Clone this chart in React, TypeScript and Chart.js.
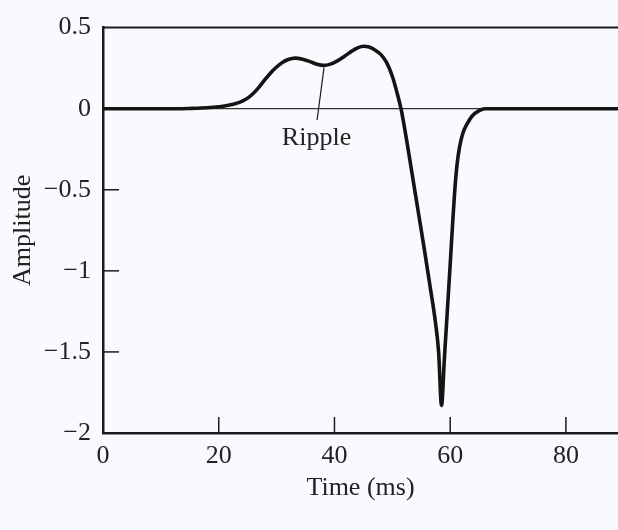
import { useEffect, useRef } from "react";
import { Chart, registerables } from "chart.js";

Chart.register(...registerables);

// ---- data ----
const timeMs = [
  0, 8, 13, 15, 17, 19, 21, 22.5, 24, 25, 26, 27, 28, 29, 30, 31, 32, 33.2, 34.5, 35.8, 37,
  38.1, 39.3, 40.5, 41.8, 43, 44, 45, 46, 47, 48, 49, 50, 50.8, 51.5, 52.5, 53.5, 54.5, 55.5,
  56.5, 57.5, 58, 58.5, 59, 59.5, 60, 60.4, 60.8, 61.2, 61.6, 62.2, 62.9, 63.8, 65, 66, 70, 80, 89,
];
const amplitude = [
  0, 0, 0, 0.0015, 0.004, 0.009, 0.017, 0.027, 0.045, 0.065, 0.095, 0.135, 0.18, 0.222, 0.257,
  0.285, 0.303, 0.312, 0.305, 0.29, 0.274, 0.267, 0.275, 0.295, 0.325, 0.355, 0.375, 0.385,
  0.38, 0.362, 0.335, 0.285, 0.2, 0.1, 0, -0.2, -0.42, -0.64, -0.86, -1.09, -1.33, -1.5, -1.83,
  -1.54, -1.25, -0.96, -0.72, -0.5, -0.34, -0.24, -0.15, -0.095, -0.045, -0.012, 0, 0, 0, 0,
];
const xTickValues = [0, 20, 40, 60, 80];
const yTickValues = [-2, -1.5, -1, -0.5, 0, 0.5];
const xMin = 0;
const xMax = 89;
const yMin = -2;
const yMax = 0.5;
const xTitle = "Time (ms)";
const yTitle = "Amplitude";
const rippleText = "Ripple";
const ripplePointerFrom = [38.2, 0.255];
const ripplePointerTo = [37.0, -0.07];
const rippleTextAt = [36.9, -0.225];

const INK = "#1b1b1b";
const BG = "#f9fafd";
const FONT_FAMILY = "'Liberation Serif', 'DejaVu Serif', serif";

const fmt = (v: number) => (v < 0 ? "\u2212" + String(Math.abs(v)) : String(v));

const framePlugin = {
  id: "frameTicks",
  afterDraw(chart: any) {
    const { ctx, chartArea } = chart;
    const xs = chart.scales.x;
    const ys = chart.scales.y;
    ctx.save();
    // top border
    ctx.strokeStyle = INK;
    ctx.lineWidth = 2;
    ctx.beginPath();
    ctx.moveTo(chartArea.left, chartArea.top);
    ctx.lineTo(chartArea.right, chartArea.top);
    ctx.stroke();
    // inward ticks
    ctx.lineWidth = 1.5;
    const tl = 16;
    xTickValues.forEach((v) => {
      if (v === xMin || v === xMax) return;
      const px = xs.getPixelForValue(v);
      ctx.beginPath();
      ctx.moveTo(px, chartArea.bottom);
      ctx.lineTo(px, chartArea.bottom - tl);
      ctx.stroke();
    });
    yTickValues.forEach((v) => {
      if (v === yMin || v === yMax || v === 0) return;
      const py = ys.getPixelForValue(v);
      ctx.beginPath();
      ctx.moveTo(chartArea.left, py);
      ctx.lineTo(chartArea.left + tl, py);
      ctx.stroke();
    });
    // ripple annotation
    ctx.lineWidth = 1.2;
    ctx.beginPath();
    ctx.moveTo(xs.getPixelForValue(ripplePointerFrom[0]), ys.getPixelForValue(ripplePointerFrom[1]));
    ctx.lineTo(xs.getPixelForValue(ripplePointerTo[0]), ys.getPixelForValue(ripplePointerTo[1]));
    ctx.stroke();
    ctx.fillStyle = "#222";
    ctx.font = `26px ${FONT_FAMILY}`;
    ctx.textAlign = "center";
    ctx.textBaseline = "alphabetic";
    ctx.fillText(rippleText, xs.getPixelForValue(rippleTextAt[0]), ys.getPixelForValue(rippleTextAt[1]));
    ctx.restore();
  },
};

export default function App() {
  const canvasRef = useRef<HTMLCanvasElement | null>(null);

  useEffect(() => {
    document.body.style.margin = "0";
    document.body.style.background = BG;
    const canvas = canvasRef.current;
    if (!canvas) return;
    const tickFont = { family: FONT_FAMILY, size: 26 };
    const titleFont = { family: FONT_FAMILY, size: 26 };
    const chart = new Chart(canvas, {
      type: "line",
      data: {
        datasets: [
          {
            data: timeMs.map((t, i) => ({ x: t, y: amplitude[i] })),
            borderColor: "#141414",
            borderWidth: 3.6,
            pointRadius: 0,
            fill: false,
            cubicInterpolationMode: "monotone",
            borderCapStyle: "round",
            borderJoinStyle: "round",
          },
        ],
      },
      options: {
        animation: false,
        responsive: false,
        maintainAspectRatio: false,
        layout: { padding: { top: 21, right: 0, bottom: 0, left: 0 } },
        plugins: { legend: { display: false }, tooltip: { enabled: false } },
        scales: {
          x: {
            type: "linear",
            min: xMin,
            max: xMax,
            afterBuildTicks: (s: any) => {
              s.ticks = xTickValues.map((v) => ({ value: v }));
            },
            afterFit: (s: any) => {
              s.height = 97;
            },
            grid: { display: false, drawTicks: false },
            border: { display: true, color: INK, width: 2.5 },
            ticks: {
              padding: 8,
              font: tickFont,
              color: "#222",
              maxRotation: 0,
              autoSkip: false,
              callback: (v: any) => fmt(Number(v)),
            },
            title: {
              display: true,
              text: xTitle,
              font: titleFont,
              color: "#222",
              padding: { top: 0, bottom: 26 },
            },
          },
          y: {
            type: "linear",
            min: yMin,
            max: yMax,
            afterBuildTicks: (s: any) => {
              s.ticks = yTickValues.map((v) => ({ value: v }));
            },
            afterFit: (s: any) => {
              s.width = 103;
            },
            grid: {
              drawTicks: false,
              lineWidth: 1.2,
              color: (c: any) => (c.tick && c.tick.value === 0 ? "#333" : "rgba(0,0,0,0)"),
            },
            border: { display: true, color: INK, width: 2.5 },
            ticks: {
              padding: 12,
              font: tickFont,
              color: "#222",
              autoSkip: false,
              callback: (v: any) => fmt(Number(v)),
            },
            title: {
              display: true,
              text: yTitle,
              font: titleFont,
              color: "#222",
              padding: { top: 8, bottom: 0 },
            },
          },
        },
      },
      plugins: [framePlugin],
    } as any);
    return () => chart.destroy();
  }, []);

  return (
    <div style={{ width: 618, height: 530, background: BG }}>
      <canvas ref={canvasRef} width={618} height={530} style={{ display: "block" }} />
    </div>
  );
}
